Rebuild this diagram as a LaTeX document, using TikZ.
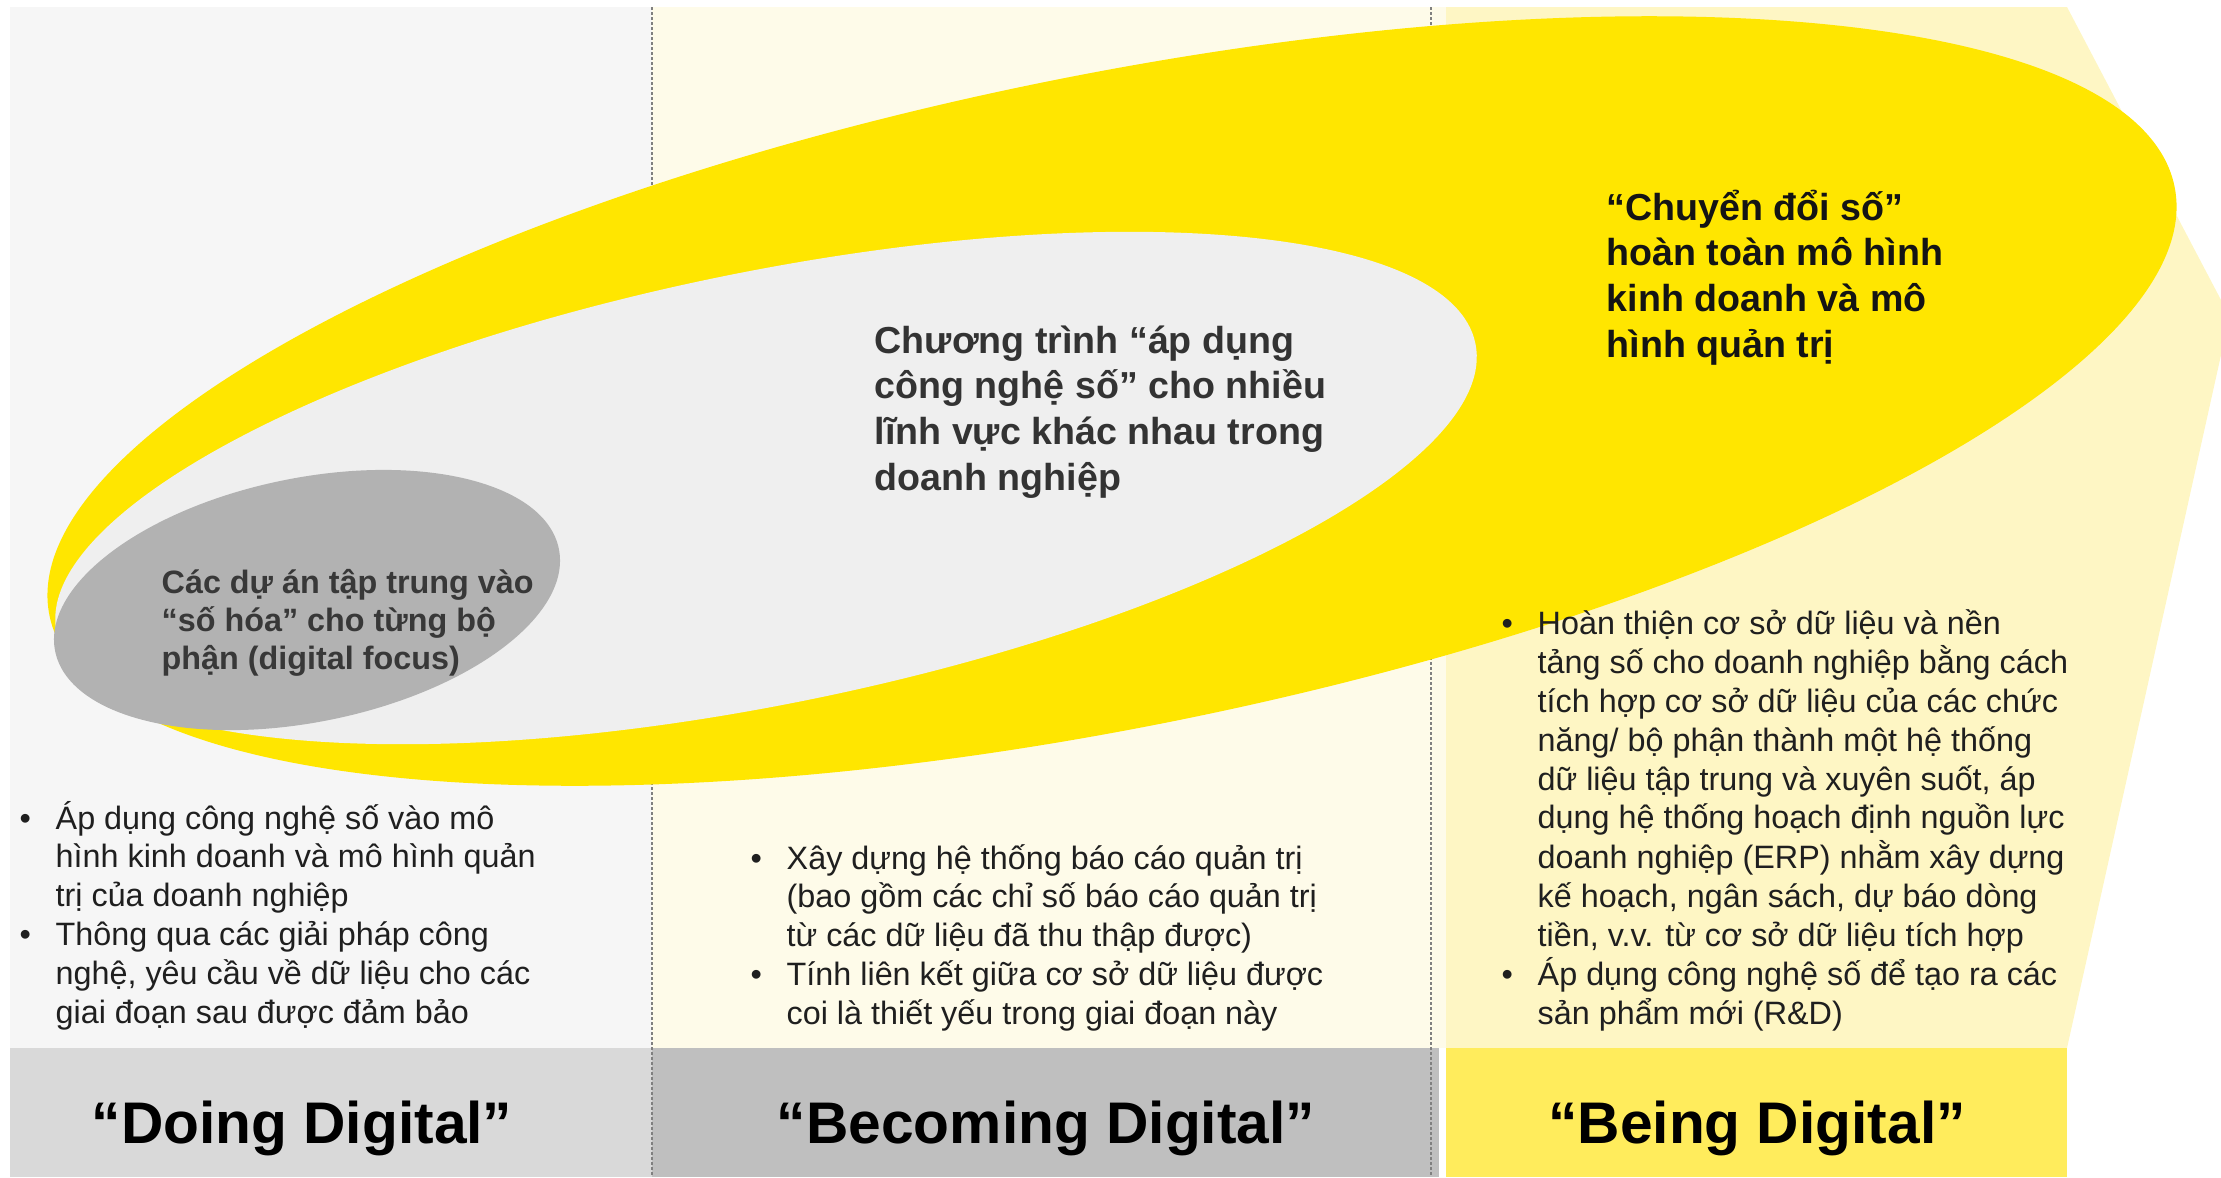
\documentclass[tikz,border=0pt]{standalone}
\usepackage{fontspec}
\setmainfont{Liberation Sans}

\definecolor{eyyellow}{HTML}{FFE600}
\definecolor{paleyellow}{HTML}{FEF6C4}
\definecolor{cream}{HTML}{FEFBE9}
\definecolor{lightgrey}{HTML}{F6F6F6}
\definecolor{innergrey}{HTML}{EFEFEF}
\definecolor{darkgrey}{HTML}{B2B2B2}
\definecolor{bandone}{HTML}{D9D9D9}
\definecolor{bandtwo}{HTML}{BFBFBF}
\definecolor{bandthree}{HTML}{FFEC5C}

\newcommand{\pointlist}[1]{\begin{tabular}[t]{@{}p{0.36cm}@{}l@{}}#1\end{tabular}}
\newcommand{\linesof}[1]{\begin{tabular}[t]{@{}l@{}}#1\end{tabular}}

\tikzset{
  body/.style={inner sep=0pt, anchor=base west, text=black!88, font=\fontsize{9.2}{11.04}\selectfont},
  focustext/.style={inner sep=0pt, anchor=base west, text=black!78, font=\bfseries\fontsize{9.2}{10.9}\selectfont},
  blob/.style={inner sep=0pt, anchor=base west, font=\bfseries\fontsize{10.7}{13}\selectfont},
  stage/.style={inner sep=0pt, anchor=base, text=black, font=\bfseries\fontsize{16.7}{20}\selectfont},
  sep/.style={black!50, line width=0.35pt, dash pattern=on 0.03cm off 0.02cm}
}

\begin{document}
\begin{tikzpicture}
  \useasboundingbox (0,0) rectangle (22.21,-11.77);
  % column backgrounds
  \fill[lightgrey] (0.10,-0.07) rectangle (6.52,-10.48);
  \fill[cream] (6.52,-0.07) rectangle (14.46,-10.48);
  \fill[paleyellow] (14.46,-0.07) -- (20.67,-0.07) -- (22.21,-3.00)
    -- (22.21,-3.55) -- (20.67,-10.48) -- (14.46,-10.48) -- cycle;
  % bottom bands
  \fill[bandone] (0.10,-10.48) rectangle (6.52,-11.77);
  \fill[bandtwo] (6.52,-10.48) rectangle (14.39,-11.77);
  \fill[bandthree] (14.46,-10.48) rectangle (20.67,-11.77);
  \foreach \x in {6.52,14.31}
    \draw[sep] (\x,-0.07) -- (\x,-11.77);

  % the three ellipses
  \fill[eyyellow, rotate around={11.4:(11.12,-4.01)}] (11.12,-4.01) ellipse [x radius=10.84, y radius=3.26];
  \fill[innergrey, rotate around={11.5:(7.66,-4.88)}] (7.66,-4.88) ellipse [x radius=7.24, y radius=2.16];
  \fill[darkgrey, rotate around={11.5:(3.07,-6.00)}] (3.07,-6.00) ellipse [x radius=2.57, y radius=1.22];

  \node[focustext] (focus) at (1.61,-5.93)
    {\linesof{Các dự án tập trung vào\\“số hóa” cho từng bộ\\phận (digital focus)}};
  \node[blob, text=black!80] (program) at (8.74,-3.53)
    {\linesof{Chương trình “áp dụng\\công nghệ số” cho nhiều\\lĩnh vực khác nhau trong\\doanh nghiệp}};
  \node[blob, text=black!92] (transform) at (16.06,-2.20)
    {\linesof{“Chuyển đổi số”\\hoàn toàn mô hình\\kinh doanh và mô\\hình quản trị}};

  % bullet points
  \node[body] (doingpts) at (0.19,-8.29)
    {\pointlist{•&Áp dụng công nghệ số vào mô\\
                 &hình kinh doanh và mô hình quản\\
                 &trị của doanh nghiệp\\
                •&Thông qua các giải pháp công\\
                 &nghệ, yêu cầu về dữ liệu cho các\\
                 &giai đoạn sau được đảm bảo}};
  \node[body] (becomingpts) at (7.50,-8.69)
    {\pointlist{•&Xây dựng hệ thống báo cáo quản trị\\
                 &(bao gồm các chỉ số báo cáo quản trị\\
                 &từ các dữ liệu đã thu thập được)\\
                •&Tính liên kết giữa cơ sở dữ liệu được\\
                 &coi là thiết yếu trong giai đoạn này}};
  \node[body] (beingpts) at (15.01,-6.34)
    {\pointlist{•&Hoàn thiện cơ sở dữ liệu và nền\\
                 &tảng số cho doanh nghiệp bằng cách\\
                 &tích hợp cơ sở dữ liệu của các chức\\
                 &năng/ bộ phận thành một hệ thống\\
                 &dữ liệu tập trung và xuyên suốt, áp\\
                 &dụng hệ thống hoạch định nguồn lực\\
                 &doanh nghiệp (ERP) nhằm xây dựng\\
                 &kế hoạch, ngân sách, dự báo dòng\\
                 &tiền, v.v. từ cơ sở dữ liệu tích hợp\\
                •&Áp dụng công nghệ số để tạo ra các\\
                 &sản phẩm mới (R\&D)}};

  % stage names
  \node[stage] (doing) at (3.02,-11.43) {“Doing Digital”};
  \node[stage] (becoming) at (10.46,-11.43) {“Becoming Digital”};
  \node[stage] (being) at (17.57,-11.43) {“Being Digital”};
\end{tikzpicture}
\end{document}
